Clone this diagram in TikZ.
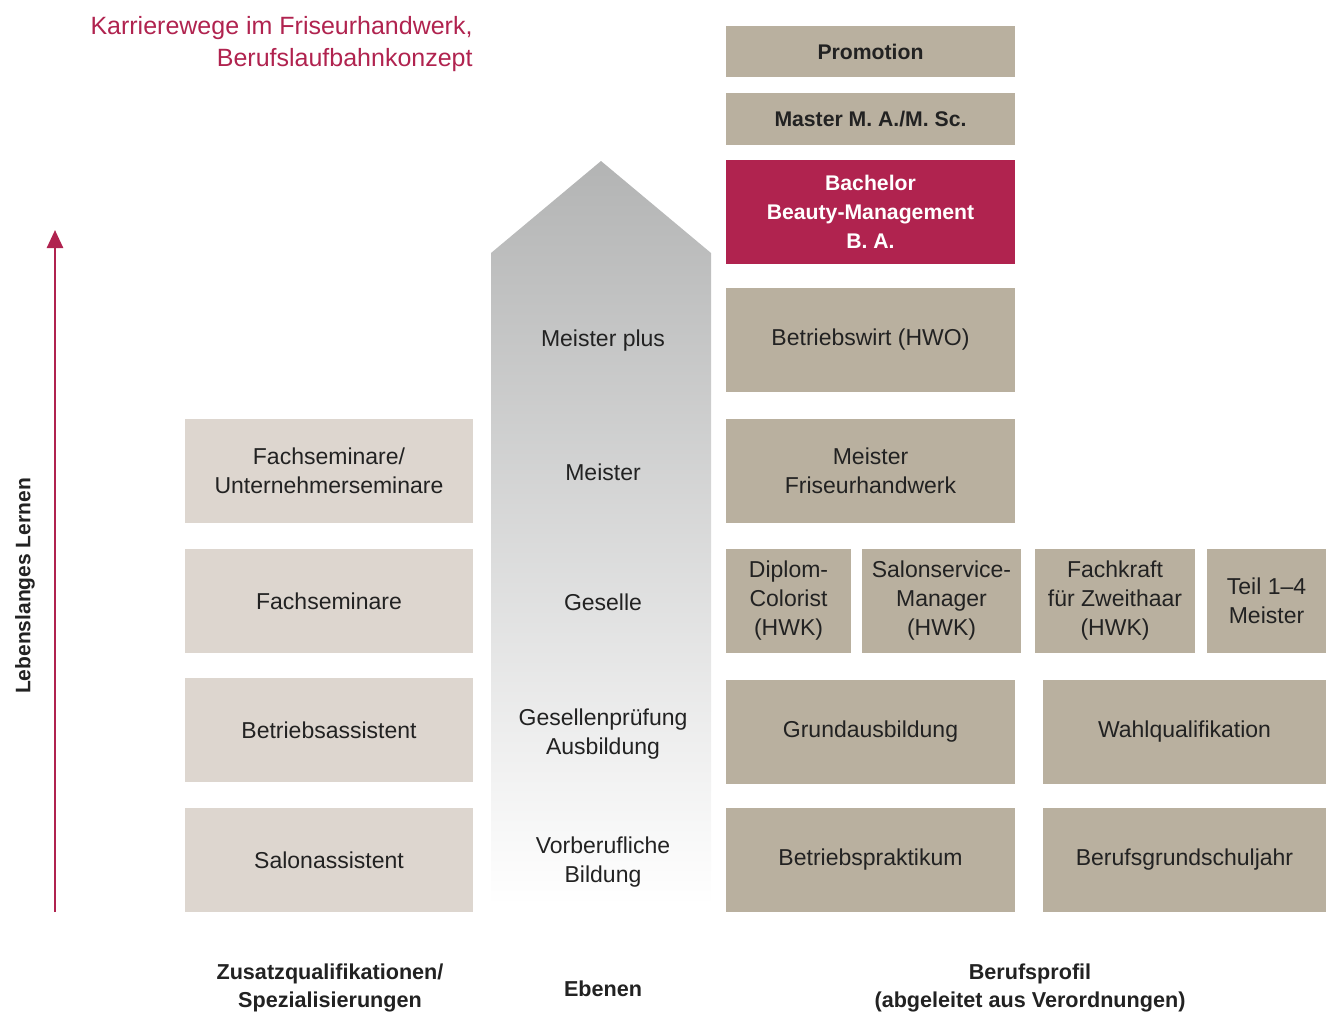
\documentclass[tikz,border=0pt]{standalone}
\usepackage{fontspec}
\setmainfont{Liberation Sans}
\usepackage{tikz}
\usetikzlibrary{
    arrows.meta,
    positioning
}

\definecolor{sand}{HTML}{DDD6CF}
\definecolor{taupe}{HTML}{B9B09F}
\definecolor{berry}{HTML}{B0234F}
\definecolor{ink}{HTML}{222222}
\definecolor{levelgray}{HTML}{B3B4B4}

\begin{document}
\begin{tikzpicture}[
    x=0.5pt, y=-0.5pt,
    every node/.style={text=ink},
    box/.style={
        inner sep=0pt,
        minimum height=52pt,
        align=center,
        font=\fontsize{11.5}{14.5}\selectfont
    },
    lightbox/.style={box, fill=sand, minimum width=144pt},
    darkbox/.style={box, fill=taupe, minimum width=144.5pt},
    level/.style={
        align=center,
        font=\fontsize{11.5}{14.5}\selectfont
    },
    caption/.style={
        align=center,
        font=\bfseries\fontsize{10.8}{14}\selectfont
    }
]
\useasboundingbox (0,0) rectangle (1326,1014);

% title
\node[anchor=base east, inner sep=0pt, align=right, text=berry,
    font=\fontsize{12.5}{16}\selectfont] (title) at (473,66)
{Karrierewege im Friseurhandwerk,\\Berufslaufbahnkonzept};

% lifelong learning arrow
\coordinate (lernstart) at (55,912);
\coordinate (lernend) at (55,230);
\draw[berry, line width=1.3pt, -{Triangle[length=9pt,width=8pt]}]
    (lernstart) -- (lernend);
\node[rotate=90, font=\bfseries\fontsize{10.5}{12}\selectfont] (lernen)
    at (25,586) {Lebenslanges Lernen};

% levels (shaded house)
\shade[top color=levelgray, bottom color=white, shading angle=0]
    (491,905) -- (491,253) -- (601,161) -- (711,253) -- (711,905) -- cycle;
\node[level] (meisterplus) at (603,341) {Meister plus};
\node[level] (meister) at (603,472) {Meister};
\node[level] (geselle) at (603,602) {Geselle};
\node[level] (ausbildung) at (603,734) {Gesellenprüfung\\Ausbildung};
\node[level] (vorberuf) at (603,862) {Vorberufliche\\Bildung};

% additional qualifications
\node[lightbox] (unternehmer) at (329,471)
{Fachseminare/\\Unternehmerseminare};
\node[lightbox] (fachsem) at (329,601) {Fachseminare};
\node[lightbox] (betrass) at (329,730) {Betriebsassistent};
\node[lightbox] (salonass) at (329,860) {Salonassistent};

% occupational profile
\node[darkbox, minimum height=25.5pt, font=\bfseries\fontsize{10.6}{13}\selectfont]
    (promotion) at (870.5,51.5) {Promotion};
\node[darkbox, minimum height=26pt, font=\bfseries\fontsize{10.6}{13}\selectfont]
    (master) at (870.5,119) {Master M. A./M. Sc.};
\node[darkbox, fill=berry, text=white,
    font=\bfseries\fontsize{10.6}{14.5}\selectfont]
    (bachelor) at (870.5,212) {Bachelor\\Beauty-Management\\B. A.};
\node[darkbox] (betriebswirt) at (870.5,340) {Betriebswirt (HWO)};
\node[darkbox] (meisterfh) at (870.5,471) {Meister\\Friseurhandwerk};

\node[darkbox, minimum width=62.5pt] (diplom) at (788.5,601)
{Diplom-\\Colorist\\(HWK)};
\node[darkbox, minimum width=79.5pt] (salonservice) at (941.5,601)
{Salonservice-\\Manager\\(HWK)};
\node[darkbox, minimum width=80pt] (zweithaar) at (1115,601)
{Fachkraft\\für Zweithaar\\(HWK)};
\node[darkbox, minimum width=59.5pt] (teil) at (1266.5,601)
{Teil 1--4\\Meister};

\node[darkbox] (grund) at (870.5,732) {Grundausbildung};
\node[darkbox, minimum width=141.5pt] (wahl) at (1184.5,732)
{Wahlqualifikation};
\node[darkbox] (praktikum) at (870.5,860) {Betriebspraktikum};
\node[darkbox, minimum width=141.5pt] (bgj) at (1184.5,860)
{Berufsgrundschuljahr};

% column captions
\node[caption] (capzusatz) at (330,988)
{Zusatzqualifikationen/\\Spezialisierungen};
\node[caption] (capebenen) at (603,989) {Ebenen};
\node[caption] (capberuf) at (1030,988)
{Berufsprofil\\(abgeleitet aus Verordnungen)};

\end{tikzpicture}
\end{document}
